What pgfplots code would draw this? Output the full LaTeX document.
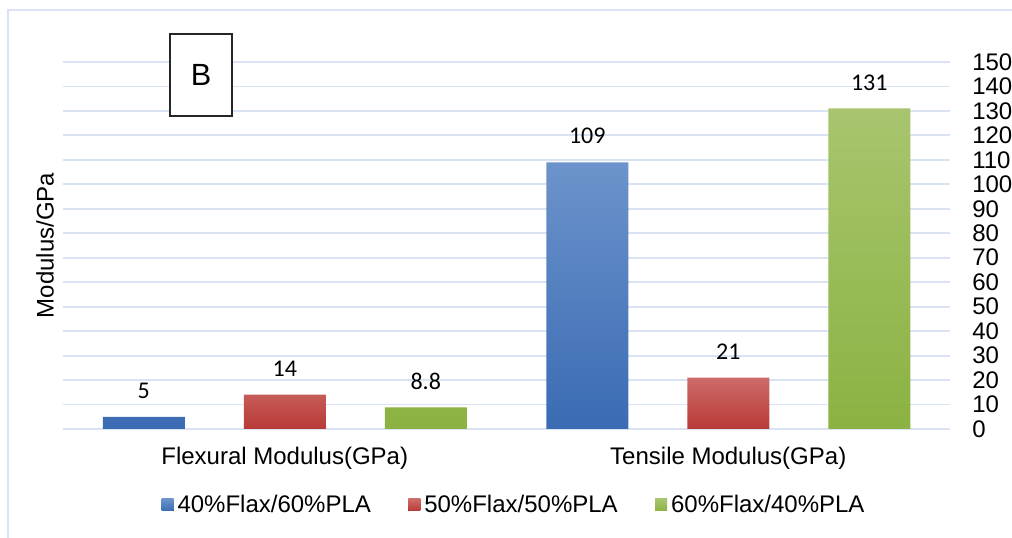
\documentclass[border=0pt]{standalone}
\usepackage{pgfplots}
\pgfplotsset{compat=1.18}
\usepackage{fontspec}
\setmainfont{Liberation Sans}
\newfontfamily\calibri{Carlito}

\definecolor{gridblue}{HTML}{D9E3F4}
\definecolor{bluetop}{HTML}{6C93CB}
\definecolor{bluebot}{HTML}{3A6BB3}
\definecolor{redtop}{HTML}{CD6B69}
\definecolor{redbot}{HTML}{B83A37}
\definecolor{greentop}{HTML}{A8C56E}
\definecolor{greenbot}{HTML}{8BB242}

\begin{document}
\begin{tikzpicture}
% page size and the light frame (left and top edges only)
\useasboundingbox (-47.25pt,-81.75pt) rectangle (711.75pt,321.75pt);
\draw[gridblue, line width=1.5pt] (-41.25pt,-81.75pt) -- (-41.25pt,314.25pt) -- (711.75pt,314.25pt);
\begin{axis}[
    scale only axis,
    clip=false,
    width=665.25pt, height=275.25pt,
    ybar=44.25pt,
    bar width=61.5pt,
    xmin=-0.5, xmax=1.5,
    ymin=0, ymax=150,
    xtick={0,1},
    xticklabels={Flexural Modulus(GPa), Tensile Modulus(GPa)},
    ytick distance=10,
    yticklabel pos=right,
    /pgf/number format/assume math mode=true,
    axis line style={draw=none},
    tick style={draw=none},
    major tick length=0pt,
    ymajorgrids,
    grid style={gridblue, line width=1.4pt},
    tick label style={font=\fontsize{18}{21}\selectfont},
    yticklabel style={anchor=west, inner sep=0pt, xshift=16.5pt},
    xticklabel style={anchor=base, inner sep=0pt, yshift=-27pt},
    ylabel={Modulus/GPa},
    ylabel style={at={(axis description cs:-0.0203,0.5)}, anchor=center, font=\fontsize{18}{21}\selectfont},
    nodes near coords,
    nodes near coords style={font=\calibri\fontsize{18}{21}\selectfont, anchor=south, inner sep=0pt, yshift=13.5pt, text=black},
    legend columns=3,
    legend style={at={(axis description cs:0.5096,-0.207)}, anchor=center, draw=none,
        font=\fontsize{18}{21}\selectfont,
        nodes={inner sep=3pt},
        /tikz/every even column/.append style={column sep=25pt}},
    legend image code/.code={\fill[#1] (0pt,-4.5pt) rectangle (9pt,4.5pt);},
]
\addplot[draw=none, top color=bluetop, bottom color=bluebot] coordinates {(0,5) (1,109)};
\addplot[draw=none, top color=redtop, bottom color=redbot] coordinates {(0,14) (1,21)};
\addplot[draw=none, top color=greentop, bottom color=greenbot] coordinates {(0,8.8) (1,131)};
\legend{40\%Flax/60\%PLA, 50\%Flax/50\%PLA, 60\%Flax/40\%PLA}
\node[draw=black!85, line width=0.8pt, fill=white, minimum width=46.5pt, minimum height=61.5pt,
      font=\fontsize{23}{26}\selectfont] at (axis description cs:0.1556,0.9646) {B};
\end{axis}
\end{tikzpicture}
\end{document}
